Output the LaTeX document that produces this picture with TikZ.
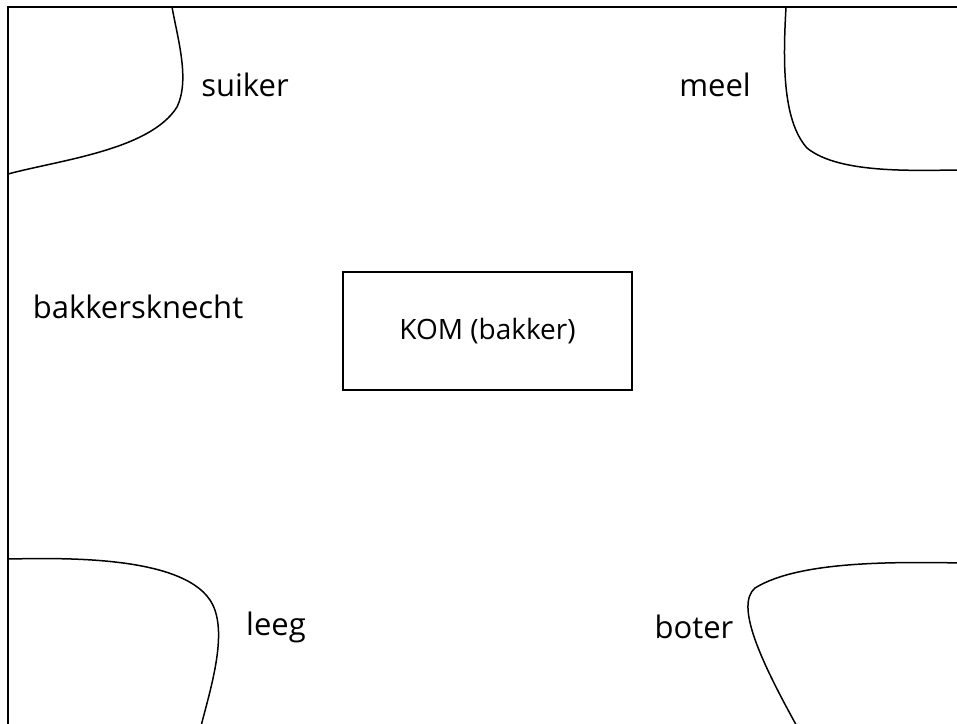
\documentclass[tikz,border=0pt]{standalone}
\usepackage{fontspec}
\setmainfont{Open Sans}
\begin{document}
\begin{tikzpicture}[x=1pt,y=-1pt,
  outline/.style={line width=1.6pt, black},
  region/.style={line width=1.5pt, black},
  lbl/.style={font=\fontsize{31}{36}\selectfont, inner sep=0pt, anchor=center}]
\useasboundingbox (0,0) rectangle (957,723);
% outer frame (runs off the right and bottom edges)
\draw[outline] (8,730) -- (8,7) -- (965,7);
% corner regions
\draw[region] (172,7) .. controls (178,40) and (190,80) .. (177,107)
  .. controls (150,150) and (60,160) .. (8,174);
\draw[region] (786,7) .. controls (783,60) and (782,120) .. (807,148)
  .. controls (840,175) and (920,170) .. (965,170);
\draw[region] (8,559) .. controls (60,558) and (180,555) .. (210,600)
  .. controls (230,630) and (210,690) .. (200,730);
\draw[region] (965,563) .. controls (900,562) and (800,560) .. (755,588)
  .. controls (735,605) and (760,660) .. (799,730);
% central box
\node[draw, line width=1.5pt, minimum width=289pt, minimum height=118pt,
  font=\fontsize{28}{32}\selectfont] (kom) at (487.5,331) {KOM (bakker)};
% labels
\node[lbl] (suiker) at (245,85) {suiker};
\node[lbl] (meel) at (715,85) {meel};
\node[lbl] (knecht) at (138,307) {bakkersknecht};
\node[lbl] (leeg) at (276,627) {leeg};
\node[lbl] (boter) at (694,627) {boter};
\end{tikzpicture}
\end{document}
